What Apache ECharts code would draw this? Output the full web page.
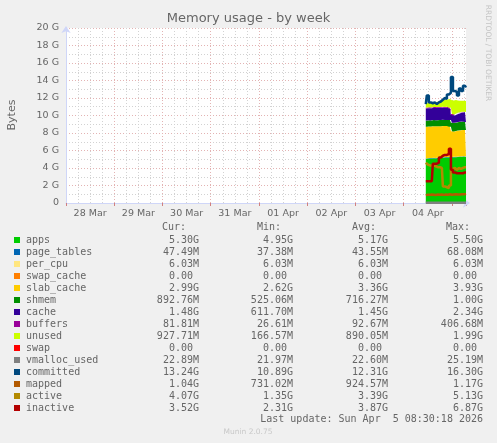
<!DOCTYPE html>
<html><head><meta charset="utf-8">
<script src="https://cdn.jsdelivr.net/npm/echarts@6/dist/echarts.min.js"></script>
<style>html,body{margin:0;padding:0;background:#f0f0f0}#c{width:497px;height:443px}</style>
</head><body><div id="c"></div>
<script>
// x values: hours since 28 Mar 2026 00:00
const hours = [179,180,181,182,183,184,185,186,187,188,189,190,191,192,193,194,195,196,197,198,199];
const dayLabels = ['28 Mar','29 Mar','30 Mar','31 Mar','01 Apr','02 Apr','03 Apr','04 Apr'];
const yTickLabels = ['0','2 G','4 G','6 G','8 G','10 G','12 G','14 G','16 G','18 G','20 G'];

// stacked areas (GB)
const apps        = [5.05,5.08,5.10,5.10,5.12,5.10,5.14,5.15,5.17,5.18,5.20,5.20,5.22,5.20,5.22,5.24,5.25,5.27,5.28,5.30,5.30];
const page_tables = [0.040,0.042,0.043,0.044,0.042,0.045,0.043,0.044,0.046,0.045,0.044,0.043,0.046,0.045,0.047,0.044,0.045,0.046,0.047,0.046,0.047];
const per_cpu     = [0.006,0.006,0.006,0.006,0.006,0.006,0.006,0.006,0.006,0.006,0.006,0.006,0.006,0.006,0.006,0.006,0.006,0.006,0.006,0.006,0.006];
const swap_cache  = [0,0,0,0,0,0,0,0,0,0,0,0,0,0,0,0,0,0,0,0,0];
const slab_cache  = [3.62,3.60,3.60,3.58,3.60,3.62,3.58,3.58,3.56,3.57,3.55,3.55,3.45,2.95,2.90,2.95,2.98,3.00,3.02,3.00,2.99];
const shmem       = [0.68,0.70,0.70,0.69,0.71,0.70,0.69,0.70,0.71,0.70,0.69,0.70,0.75,0.98,0.99,0.97,0.98,0.96,0.95,0.93,0.89];
const cache       = [1.40,1.40,1.39,1.41,1.40,1.40,1.42,1.41,1.40,1.41,1.40,1.40,1.30,0.88,0.85,0.90,0.95,1.00,1.05,1.08,1.10];
const buffers     = [0.08,0.08,0.09,0.08,0.08,0.09,0.08,0.08,0.09,0.08,0.08,0.09,0.10,0.12,0.11,0.10,0.09,0.09,0.08,0.08,0.08];
const unused      = [0.53,0.52,0.55,0.58,0.56,0.58,0.60,0.65,0.75,0.82,0.84,0.85,1.00,1.55,1.60,1.55,1.40,1.30,1.25,1.25,1.25];
const swap        = [0,0,0,0,0,0,0,0,0,0,0,0,0,0,0,0,0,0,0,0,0];
// lines (GB)
const vmalloc_used = [0.023,0.023,0.023,0.023,0.023,0.023,0.023,0.023,0.023,0.023,0.023,0.023,0.023,0.023,0.023,0.023,0.023,0.023,0.023,0.023,0.023];
const committed    = [11.3,12.3,11.5,11.4,11.5,11.3,11.5,11.6,11.8,12.0,11.9,12.4,12.6,14.4,12.8,12.7,12.3,13.1,12.8,13.4,13.2];
const mapped       = [0.90,0.95,0.93,0.97,0.95,0.92,0.96,0.94,0.98,0.93,0.97,0.95,0.99,0.94,0.97,1.00,0.96,0.98,1.01,0.99,1.04];
const active       = [4.6,4.4,4.3,4.3,4.3,4.2,4.1,4.1,4.0,1.9,1.8,1.7,2.0,3.9,4.0,3.8,4.0,3.9,4.0,4.1,4.1];
const inactive     = [2.5,2.5,2.5,2.5,4.5,4.5,4.6,5.2,5.4,5.5,5.5,5.6,6.2,3.8,3.5,3.4,3.4,3.4,3.4,3.5,3.5];

// legend table
const legendNames  = ['apps','page_tables','per_cpu','swap_cache','slab_cache','shmem','cache','buffers','unused','swap','vmalloc_used','committed','mapped','active','inactive'];
const legendColors = ['#00CC00','#0066B3','#FFE680','#FF8000','#FFCC00','#008F00','#330099','#990099','#CCFF00','#FF0000','#808080','#00487D','#B35A00','#B38A00','#B30000'];
const curVals = ['5.30G','47.49M','6.03M','0.00 ','2.99G','892.76M','1.48G','81.81M','927.71M','0.00 ','22.89M','13.24G','1.04G','4.07G','3.52G'];
const minVals = ['4.95G','37.38M','6.03M','0.00 ','2.62G','525.06M','611.70M','26.61M','166.57M','0.00 ','21.97M','10.89G','731.02M','1.35G','2.31G'];
const avgVals = ['5.17G','43.55M','6.03M','0.00 ','3.36G','716.27M','1.45G','92.67M','890.05M','0.00 ','22.60M','12.31G','924.57M','3.39G','3.87G'];
const maxVals = ['5.50G','68.08M','6.03M','0.00 ','3.93G','1.00G','2.34G','406.68M','1.99G','0.00 ','25.19M','16.30G','1.17G','5.13G','6.87G'];
const colHeaders = ['Cur:','Min:','Avg:','Max:'];

const areaSeries = [
  ['apps',apps],['page_tables',page_tables],['per_cpu',per_cpu],['swap_cache',swap_cache],
  ['slab_cache',slab_cache],['shmem',shmem],['cache',cache],['buffers',buffers],['unused',unused],['swap',swap]
];
const lineSeries = [
  ['vmalloc_used',vmalloc_used],['committed',committed],['mapped',mapped],['active',active],['inactive',inactive]
];
const T0 = Date.UTC(2026,2,28,0,0,0), HOUR = 3600000;
const XMIN = 0, XMAX = 199;
const colorOf = n => legendColors[legendNames.indexOf(n)];
const toPts = arr => hours.map((h,i)=>[T0 + h*HOUR, arr[i]]);

const series = [];
areaSeries.forEach(([n,arr])=>{
  series.push({name:n,type:'line',xAxisIndex:3,stack:'mem',step:'middle',symbol:'none',silent:true,
    data:toPts(arr),lineStyle:{width:0,color:colorOf(n)},areaStyle:{color:colorOf(n),opacity:1},itemStyle:{color:colorOf(n)}});
});
lineSeries.forEach(([n,arr])=>{
  series.push({name:n,type:'line',xAxisIndex:3,step:'middle',symbol:'none',silent:true,
    data:toPts(arr),lineStyle:{width:2.5,color:colorOf(n)},itemStyle:{color:colorOf(n)}});
});

const FONT = '#666666';
const MAJ = '#e3b3b3';
const MIN = '#d2d2d2';

const graphic = [];
graphic.push({type:'text',left:'center',top:12,style:{text:'Memory usage - by week',font:'13px "DejaVu Sans"',fill:FONT}});
graphic.push({type:'text',x:12,y:115,rotation:Math.PI/2,style:{text:'Bytes',font:'11px "DejaVu Sans"',fill:FONT,align:'center',verticalAlign:'middle'}});
graphic.push({type:'text',x:488,y:53,rotation:-Math.PI/2,style:{text:'RRDTOOL / TOBI OETIKER',font:'7.5px "DejaVu Sans"',fill:'#c4c4c4',align:'center',verticalAlign:'middle'}});

const mono = '10px "DejaVu Sans Mono"';
const colRight = [199,293,388,483];
const headRight = [186,281,376,470];
colHeaders.forEach((h,i)=>graphic.push({type:'text',x:headRight[i],y:227,style:{text:h,font:mono,fill:FONT,align:'right',verticalAlign:'middle'}}));
legendNames.forEach((n,i)=>{
  const y = 240 + i*12;
  graphic.push({type:'rect',shape:{x:14,y:y-3,width:6,height:6},style:{fill:legendColors[i]}});
  graphic.push({type:'text',x:26,y:y,style:{text:n,font:mono,fill:FONT,verticalAlign:'middle'}});
  [curVals,minVals,avgVals,maxVals].forEach((arr,k)=>{
    graphic.push({type:'text',x:colRight[k],y:y,style:{text:arr[i],font:mono,fill:FONT,align:'right',verticalAlign:'middle'}});
  });
});
graphic.push({type:'text',x:483,y:419,style:{text:'Last update: Sun Apr  5 08:30:18 2026',font:mono,fill:FONT,align:'right',verticalAlign:'middle'}});
graphic.push({type:'text',x:248,y:432,style:{text:'Munin 2.0.75',font:'7.5px "DejaVu Sans"',fill:'#c8c8c8',align:'center',verticalAlign:'middle'}});

const chart = echarts.init(document.getElementById('c'),null,{renderer:'canvas'});
chart.setOption({
  backgroundColor:'#f0f0f0',
  animation:false,
  grid:{left:66,right:31,top:28,bottom:240,show:true,backgroundColor:'#ffffff',borderWidth:0,containLabel:false},
  xAxis:[
    {type:'value',min:XMIN,max:XMAX,interval:12,position:'bottom',
      axisLine:{show:true,lineStyle:{color:'#CFD6F8',width:1},symbol:['none','arrow'],symbolSize:[7,7],symbolOffset:[0,4]},
      axisTick:{show:false},splitLine:{show:false},
      axisLabel:{show:true,margin:6,color:FONT,fontSize:9.5,fontFamily:'DejaVu Sans',showMaxLabel:false,showMinLabel:false,
        formatter:v=> (v%24===12 ? (dayLabels[(v-12)/24]||'') : '')}},
    {type:'value',min:XMIN,max:XMAX,interval:6,position:'bottom',
      axisLine:{show:false},axisTick:{show:false},axisLabel:{show:false},
      splitLine:{show:true,showMinLine:false,showMaxLine:false,lineStyle:{color:MIN,type:[1,2],width:1}}},
    {type:'value',min:XMIN,max:XMAX,interval:24,position:'bottom',
      axisLine:{show:false},axisTick:{show:true,length:3,lineStyle:{color:'#d08080'}},axisLabel:{show:false},
      splitLine:{show:true,showMinLine:false,showMaxLine:false,lineStyle:{color:MAJ,type:[1,2],width:1}}},
    {type:'time',min:T0+XMIN*HOUR,max:T0+XMAX*HOUR,position:'bottom',show:false,
      axisLine:{show:false},axisTick:{show:false},axisLabel:{show:false},splitLine:{show:false}}
  ],
  yAxis:{type:'value',min:0,max:20,interval:2,
    axisLine:{show:true,lineStyle:{color:'#CFD6F8',width:1},symbol:['none','arrow'],symbolSize:[7,7],symbolOffset:[0,2]},
    axisTick:{show:false},
    axisLabel:{margin:7,color:FONT,fontSize:9.5,fontFamily:'DejaVu Sans',formatter:v=>yTickLabels[Math.round(v/2)]},
    splitLine:{show:true,showMinLine:false,lineStyle:{color:MAJ,type:[1,2],width:1}},
    minorTick:{show:false,splitNumber:2},
    minorSplitLine:{show:true,lineStyle:{color:MIN,type:[1,2],width:1}}},
  series:series,
  graphic:graphic
});
</script></body></html>
